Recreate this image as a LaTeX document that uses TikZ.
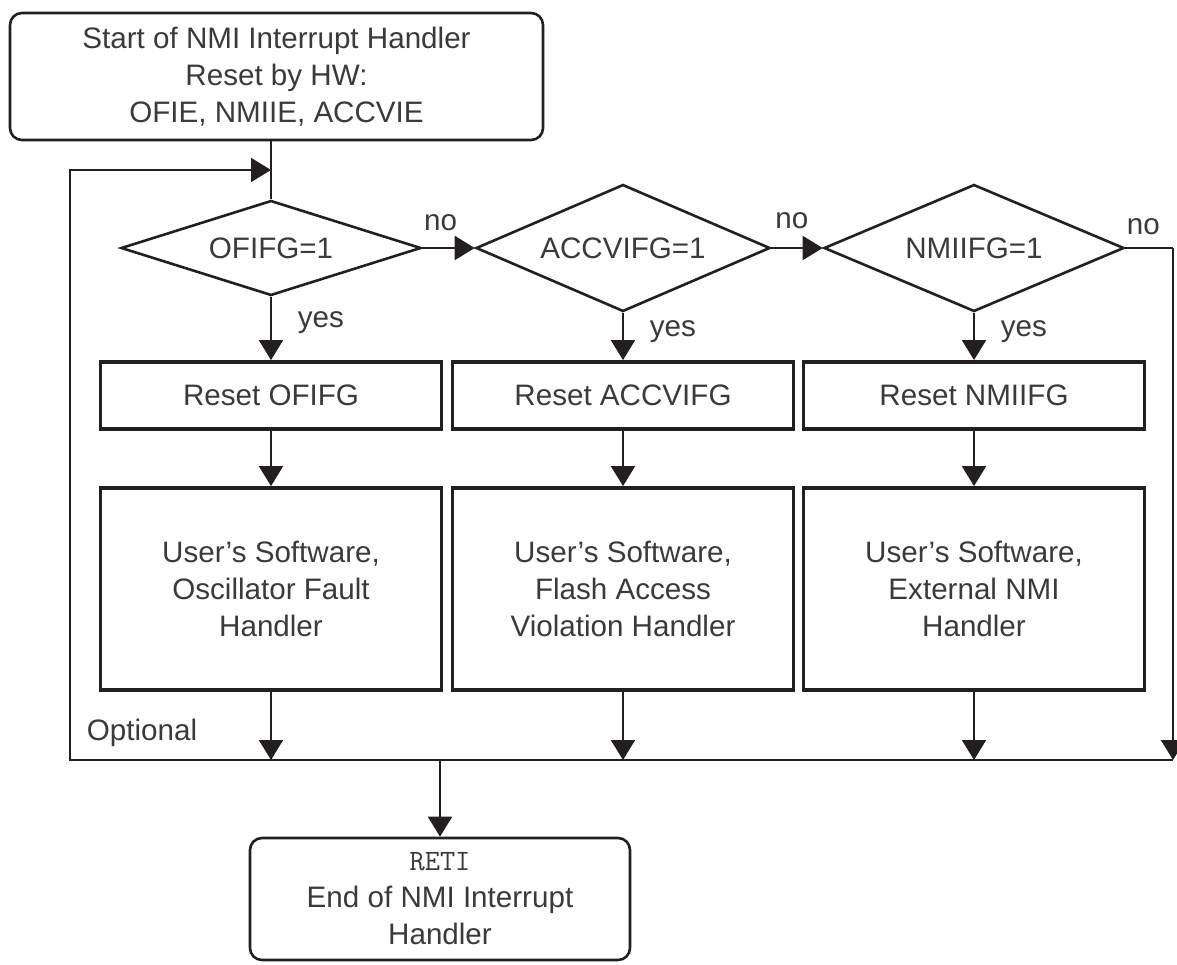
\documentclass[tikz,border=0pt]{standalone}
\usepackage{fontspec}
\setmainfont{Liberation Sans}
\usepackage{tikz}
\usetikzlibrary{arrows.meta,positioning,shapes}
\definecolor{inkline}{HTML}{231F20}
\definecolor{inktext}{HTML}{3A3A3A}

\begin{document}
\begin{tikzpicture}[x=0.5pt, y=-0.5pt, >={Triangle[length=10pt,width=12pt]}, draw=inkline, line width=0.9pt,
  font=\fontsize{14.8pt}{18.5pt}\selectfont,
  end node/.style={rectangle,rounded corners=6pt,draw=inkline,line width=1.3pt,inner sep=0pt,align=center},
  test node/.style={diamond,draw=inkline,line width=1.3pt,inner sep=0pt},
  task node/.style={rectangle,draw=inkline,line width=1.9pt,inner sep=0pt,align=center,minimum width=170.5pt},
  lbl/.style={inner sep=0pt,text=inktext}]
\useasboundingbox (0,0) rectangle (1177,964);
\begin{scope}[every node/.style={text=inktext}]
\node[end node,minimum width=266.5pt,minimum height=63.5pt] (start) at (276.5,76.5) {Start of NMI Interrupt Handler\\Reset by HW:\\OFIE, NMIIE, ACCVIE};
\node[test node,aspect=3.16,minimum width=150pt,minimum height=47.5pt] (t1) at (271,248) {OFIFG=1};
\node[test node,aspect=2.31,minimum width=147pt,minimum height=63.5pt] (t2) at (623,248) {ACCVIFG=1};
\node[test node,aspect=2.36,minimum width=150pt,minimum height=63.5pt] (t3) at (974,248) {NMIIFG=1};
\node[task node,minimum height=33.5pt] (r1) at (271,395.5) {Reset OFIFG};
\node[task node,minimum height=33.5pt] (r2) at (623,395.5) {Reset ACCVIFG};
\node[task node,minimum height=33.5pt] (r3) at (974,395.5) {Reset NMIIFG};
\node[task node,minimum height=101pt] (h1) at (271,589) {User's Software,\\Oscillator Fault\\Handler};
\node[task node,minimum height=101pt] (h2) at (623,589) {User's Software,\\Flash Access\\Violation Handler};
\node[task node,minimum height=101pt] (h3) at (974,589) {User's Software,\\External NMI\\Handler};
\node[end node,minimum width=190pt,minimum height=61pt] (reti) at (440,899) {\texttt{RETI}\\End of NMI Interrupt\\Handler};
\node[lbl] (opt) at (142,733) {Optional};
\end{scope}
\coordinate (m1) at (271,760);
\coordinate (m2) at (623,760);
\coordinate (m3) at (974,760);
\coordinate (mr) at (1173,760);
\coordinate (mret) at (440,760);
\coordinate (rt) at (1173,248);
\coordinate (lp) at (70,170);
\coordinate (lq) at (271,170);
\begin{scope}
\draw (start.south -| t1.north) -- (t1.north);
\draw[->] (m1) -| (lp) -- (lq);
\draw[->] (t1.east) -- node[lbl,above=8pt,pos=.35]{no} (t2.west);
\draw[->] (t2.east) -- node[lbl,above=9pt,pos=.4]{no} (t3.west);
\draw (t3.east) -- node[lbl,above=6pt,pos=.38]{no} (rt);
\draw[->] (rt) -- (mr);
\draw[->] (t1.south) -- node[lbl,right=13pt,pos=.4]{yes} (r1.north);
\draw[->] (t2.south) -- node[lbl,right=13pt,pos=.4]{yes} (r2.north);
\draw[->] (t3.south) -- node[lbl,right=13pt,pos=.4]{yes} (r3.north);
\draw[->] (r1) -- (h1);
\draw[->] (r2) -- (h2);
\draw[->] (r3) -- (h3);
\draw[->] (h1) -- (m1);
\draw[->] (h2) -- (m2);
\draw[->] (h3) -- (m3);
\draw (m1) -- (mr);
\draw[->] (mret) -- (reti);
\end{scope}
\end{tikzpicture}
\end{document}
